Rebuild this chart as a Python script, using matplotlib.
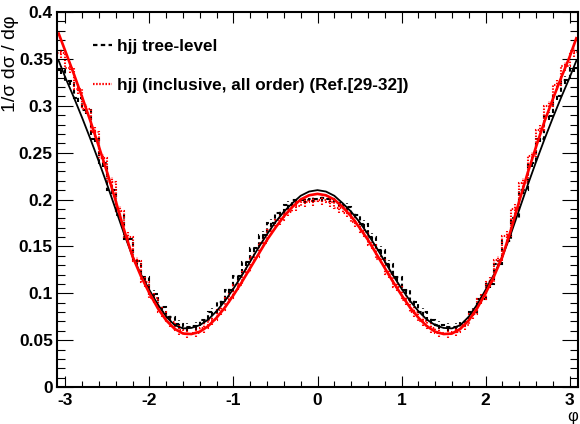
import numpy as np
import matplotlib
matplotlib.use("Agg")
import matplotlib.pyplot as plt
from matplotlib.lines import Line2D
from matplotlib.ticker import MultipleLocator, FormatStrFormatter

plt.rcParams['font.family'] = ['Liberation Sans', 'DejaVu Sans']
plt.rcParams['font.weight'] = 'bold'
plt.rcParams['axes.unicode_minus'] = False

# histogram binning: 62 bins of 0.1 over [-3.1, 3.1]
bin_width = 0.1
bin_centers = np.round(np.arange(-3.05, 3.06, 0.1), 2)
bin_edges = np.append(bin_centers - bin_width / 2, bin_centers[-1] + bin_width / 2)

# normalised phi distributions, hjj tree-level
hist_tree = [0.338, 0.326, 0.308, 0.2955, 0.265, 0.239, 0.210, 0.184, 0.158, 0.134,
             0.117, 0.099, 0.085, 0.075, 0.067, 0.064, 0.065, 0.071, 0.080, 0.091,
             0.104, 0.118, 0.133, 0.148, 0.162, 0.175, 0.186, 0.194, 0.199, 0.200,
             0.201,
             0.2015, 0.201, 0.196, 0.192, 0.184, 0.174, 0.160, 0.146, 0.131, 0.117,
             0.103, 0.091, 0.080, 0.072, 0.066, 0.064, 0.064, 0.069, 0.080, 0.094,
             0.110, 0.131, 0.156, 0.180, 0.210, 0.239, 0.265, 0.289, 0.310, 0.3275,
             0.340]
err_tree = 0.004

# hjj inclusive, all order
hist_incl = [0.356, 0.340, 0.318, 0.297, 0.272, 0.244, 0.219, 0.188, 0.160, 0.134,
             0.112, 0.095, 0.080, 0.069, 0.061, 0.057, 0.058, 0.063, 0.071, 0.082,
             0.095, 0.109, 0.123, 0.139, 0.154, 0.167, 0.178, 0.187, 0.193, 0.197,
             0.198,
             0.199, 0.197, 0.191, 0.186, 0.176, 0.165, 0.152, 0.137, 0.121, 0.107,
             0.093, 0.080, 0.070, 0.063, 0.058, 0.057, 0.059, 0.066, 0.078, 0.094,
             0.112, 0.135, 0.161, 0.190, 0.218, 0.246, 0.274, 0.300, 0.322, 0.342,
             0.357]
err_incl = 0.005

# fitted curves, sampled along phi
phi_fit = [-3.08, -3.0, -2.9, -2.8, -2.7, -2.6, -2.5, -2.4, -2.3, -2.2, -2.1, -2.0,
           -1.9, -1.8, -1.7, -1.6, -1.5, -1.4, -1.3, -1.2, -1.1, -1.0, -0.9, -0.8,
           -0.7, -0.6, -0.5, -0.4, -0.3, -0.2, -0.1, 0.0,
           0.1, 0.2, 0.3, 0.4, 0.5, 0.6, 0.7, 0.8, 0.9, 1.0, 1.1, 1.2, 1.3, 1.4,
           1.5, 1.6, 1.7, 1.8, 1.9, 2.0, 2.1, 2.2, 2.3, 2.4, 2.5, 2.6, 2.7, 2.8,
           2.9, 3.0, 3.08]
fit_tree = [0.348, 0.330, 0.309, 0.287, 0.264, 0.240, 0.215, 0.189, 0.163, 0.139,
            0.120, 0.1035, 0.088, 0.075, 0.066, 0.0625, 0.063, 0.066, 0.072, 0.081,
            0.092, 0.105, 0.119, 0.134, 0.149, 0.163, 0.176, 0.187, 0.196, 0.204,
            0.2085, 0.210,
            0.2085, 0.204, 0.196, 0.187, 0.176, 0.163, 0.149, 0.134, 0.119, 0.105,
            0.092, 0.081, 0.072, 0.066, 0.063, 0.0625, 0.066, 0.075, 0.088, 0.1035,
            0.120, 0.139, 0.163, 0.189, 0.215, 0.240, 0.264, 0.287, 0.309, 0.330,
            0.348]
fit_incl = [0.377, 0.358, 0.334, 0.309, 0.283, 0.256, 0.228, 0.198, 0.167, 0.139,
            0.118, 0.100, 0.084, 0.071, 0.062, 0.057, 0.0565, 0.059, 0.065, 0.074,
            0.085, 0.098, 0.112, 0.127, 0.142, 0.157, 0.170, 0.182, 0.192, 0.200,
            0.2045, 0.206,
            0.2045, 0.200, 0.192, 0.182, 0.170, 0.157, 0.142, 0.127, 0.112, 0.098,
            0.085, 0.074, 0.065, 0.059, 0.0565, 0.057, 0.062, 0.071, 0.084, 0.100,
            0.118, 0.139, 0.167, 0.198, 0.228, 0.256, 0.283, 0.307, 0.330, 0.352,
            0.372]

labels = ['hjj tree-level', 'hjj (inclusive, all order) (Ref.[29-32])']

fig = plt.figure(figsize=(5.8, 4.24), dpi=100)
ax = fig.add_axes([57 / 580, 1 - 387 / 424, (578 - 57) / 580, (387 - 12) / 424])

dash = (0, (2.0, 1.5))
dot = (0, (0.7, 0.7))

# histograms drawn as outlines with error bars, same line style
ax.stairs(hist_tree, bin_edges, color='black', lw=1.5, ls=dash, baseline=None)
eb = ax.errorbar(bin_centers, hist_tree, yerr=err_tree, fmt='none',
                 ecolor='black', elinewidth=1.5)
for lc in eb[2]:
    lc.set_linestyle(dash)

ax.stairs(hist_incl, bin_edges, color='red', lw=1.5, ls=dot, baseline=None)
eb = ax.errorbar(bin_centers, hist_incl, yerr=err_incl, fmt='none',
                 ecolor='red', elinewidth=1.5)
for lc in eb[2]:
    lc.set_linestyle(dot)

ax.plot(phi_fit, fit_tree, color='black', lw=1.3)
ax.plot(phi_fit, fit_incl, color='red', lw=1.9)

ax.set_xlim(-3.1, 3.1)
ax.set_ylim(0, 0.4)

ax.xaxis.set_major_locator(MultipleLocator(1))
ax.xaxis.set_minor_locator(MultipleLocator(0.2))
ax.yaxis.set_major_locator(MultipleLocator(0.05))
ax.yaxis.set_minor_locator(MultipleLocator(0.01))
ax.yaxis.set_major_formatter(FormatStrFormatter('%g'))

ax.tick_params(which='both', direction='in', top=True, right=True,
               labelsize=12.5, width=0.8, color='black')
ax.tick_params(axis='x', which='major', length=8, pad=4)
ax.tick_params(axis='x', which='minor', length=4)
ax.tick_params(axis='y', which='major', length=11.5, pad=3)
ax.tick_params(axis='y', which='minor', length=5.8)
for s in ax.spines.values():
    s.set_linewidth(1.5)

ax.set_xlabel('φ', fontsize=12, fontweight='normal', loc='right', labelpad=1)
ax.set_ylabel('1/σ dσ / dφ', fontsize=14, loc='top')
ax.yaxis.set_label_coords(-0.072, 0.99)

handles = [Line2D([], [], color='black', lw=1.6, ls=dash),
           Line2D([], [], color='red', lw=1.6, ls=dot)]
ax.legend(handles, labels, loc='upper left', bbox_to_anchor=(0.04, 0.97),
          frameon=False, fontsize=12.3, handlelength=1.1, handletextpad=0.3,
          labelspacing=1.4)

fig.savefig('out.png', dpi=100)
